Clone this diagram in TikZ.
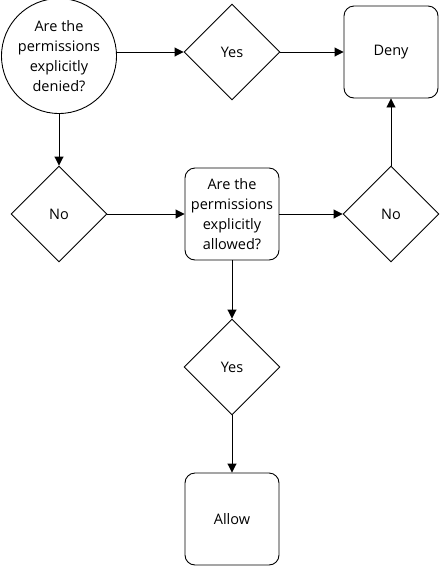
\documentclass[tikz,border=0pt]{standalone}
\usepackage{fontspec}
\setmainfont{Open Sans}
\usetikzlibrary{shapes.geometric, arrows.meta}

\tikzset{
    question/.style={draw, circle, line width=0.9pt, minimum size=115pt, inner sep=0pt, align=center},
    choice/.style={draw, diamond, line width=0.9pt, minimum width=96pt, minimum height=96pt, inner sep=0pt, align=center},
    result/.style={draw, rounded corners=10pt, line width=0.9pt, minimum width=94pt, minimum height=92pt, inner sep=0pt, align=center},
    flow/.style={line width=0.9pt, -{Triangle[length=9pt, width=9pt]}}
}

\begin{document}
\begin{tikzpicture}[x=1pt, y=-1pt, font=\fontsize{14.5}{20}\selectfont]
    \useasboundingbox (0,0) rectangle (441,566);

    % Create nodes
    \node[question] (denied) at (59,56) {Are the\\permissions\\explicitly\\denied?};
    \node[choice] (yes1) at (232,52) {Yes};
    \node[result] (deny) at (391,52) {Deny};
    \node[choice] (no1) at (59,214) {No};
    \node[result] (allowed) at (232,214) {Are the\\permissions\\explicitly\\allowed?};
    \node[choice] (no2) at (391,214) {No};
    \node[choice] (yes2) at (232,367) {Yes};
    \node[result] (allow) at (232,519) {Allow};

    % Draw connections
    \draw[flow] (denied.east |- yes1) -- (yes1.west);
    \draw[flow] (yes1.east) -- (deny.west);
    \draw[flow] (denied.south) -- (no1.north);
    \draw[flow] (no1.east) -- (allowed.west);
    \draw[flow] (allowed.east) -- (no2.west);
    \draw[flow] (no2.north) -- (deny.south);
    \draw[flow] (allowed.south) -- (yes2.north);
    \draw[flow] (yes2.south) -- (allow.north);
\end{tikzpicture}
\end{document}
